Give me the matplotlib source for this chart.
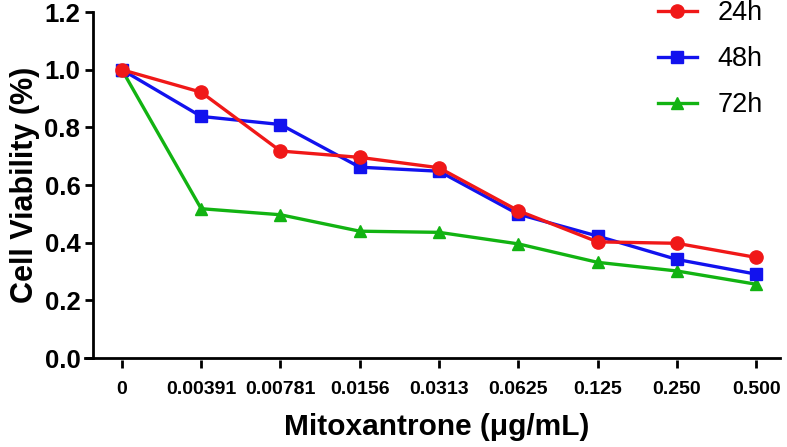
import matplotlib.pyplot as plt

plt.rcParams['font.family'] = ['Liberation Sans', 'DejaVu Sans']

doses = ['0', '0.00391', '0.00781', '0.0156', '0.0313', '0.0625', '0.125', '0.250', '0.500']
v24 = [1.0, 0.922, 0.718, 0.696, 0.660, 0.511, 0.403, 0.398, 0.349]
v48 = [1.0, 0.838, 0.810, 0.662, 0.648, 0.499, 0.423, 0.342, 0.291]
v72 = [1.0, 0.518, 0.497, 0.440, 0.436, 0.396, 0.332, 0.302, 0.256]
yticks = [0.0, 0.2, 0.4, 0.6, 0.8, 1.0, 1.2]

xpos = list(range(len(doses)))

fig = plt.figure(figsize=(7.87, 4.47), dpi=100)
ax = fig.add_axes([0.118, 0.199, 0.873, 0.774])

# plot in reverse so 24h ends on top, like the original
h72, = ax.plot(xpos, v72, '-^', color='#12b312', lw=2.4, ms=9, label='72h', clip_on=False)
h48, = ax.plot(xpos, v48, '-s', color='#1212ee', lw=2.4, ms=8, label='48h', clip_on=False)
h24, = ax.plot(xpos, v24, '-o', color='#f01818', lw=2.4, ms=9.5, label='24h', clip_on=False)

ax.set_xlim(-0.366, 8.30)
ax.set_ylim(0, 1.2)
ax.set_yticks(yticks)
ax.set_yticklabels(['%.1f' % t for t in yticks], fontsize=18.5, fontweight='bold')
ax.tick_params(axis='y', direction='out', length=6, width=2, pad=3)
ax.tick_params(axis='x', bottom=False, labelbottom=False)

for s in ['top', 'right']:
    ax.spines[s].set_visible(False)
ax.spines['left'].set_linewidth(2)
ax.spines['bottom'].set_linewidth(2)
ax.spines['bottom'].set_bounds(-0.47, 8.30)

# ticks detached from the axis line
sec = ax.secondary_xaxis(-0.006)
sec.set_xticks(xpos)
sec.set_xticklabels(doses, fontsize=14, fontweight='bold')
sec.spines['bottom'].set_visible(False)
sec.tick_params(direction='out', length=6, width=2, pad=9)
sec.set_xlabel('Mitoxantrone (\u03bcg/mL)', fontsize=21.5, fontweight='bold', labelpad=11)

ax.set_ylabel('Cell Viability (%)', fontsize=22, fontweight='bold', labelpad=3)

ax.legend(handles=[h24, h48, h72], loc='upper right', bbox_to_anchor=(1.01, 1.105),
          frameon=False, fontsize=19.5, labelspacing=0.74, handlelength=1.45,
          handletextpad=0.75)

fig.savefig('out.png', dpi=100)
